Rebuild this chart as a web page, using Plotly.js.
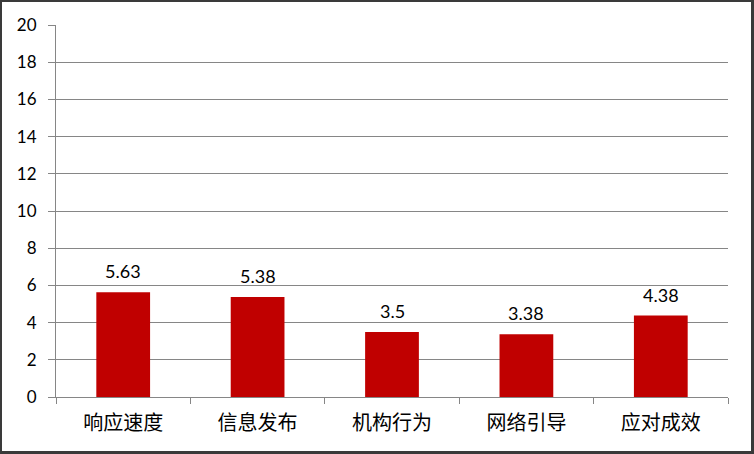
<!DOCTYPE html>
<html><head><meta charset="utf-8">
<script src="https://cdn.plot.ly/plotly-3.0.1.min.js"></script>
<style>
html,body{margin:0;padding:0;background:#fff;}
#wrap{width:754px;height:454px;box-sizing:border-box;border:2px solid #3a3a3a;border-right-width:3px;border-bottom-width:3px;overflow:hidden;}
#chart{width:749px;height:449px;}
</style></head>
<body><div id="wrap"><div id="chart"></div></div>
<script>
const categories = ["响应速度","信息发布","机构行为","网络引导","应对成效"];
const values = [5.63, 5.38, 3.5, 3.38, 4.38];
const valueLabels = ["5.63","5.38","3.5","3.38","4.38"];
const yTicks = [0,2,4,6,8,10,12,14,16,18,20];

const trace = {
  type: "bar", x: categories, y: values,
  marker: {color: "#C00000"},
  hoverinfo: "none"
};
const annotations = categories.map((c, i) => ({
  x: c, y: values[i], xref: "x", yref: "y",
  text: valueLabels[i], showarrow: false,
  yanchor: "middle", yshift: 21,
  font: {family: "Lato, 'Open Sans', sans-serif", size: 18, color: "#000"}
}));
const layout = {
  width: 749, height: 449,
  margin: {l: 54, r: 23, t: 23, b: 54},
  paper_bgcolor: "#fff", plot_bgcolor: "#fff",
  bargap: 0.6, showlegend: false,
  annotations: annotations,
  xaxis: {
    type: "category", showgrid: false, showline: true, linecolor: "#868686", linewidth: 1,
    ticks: "outside", tickson: "boundaries", ticklen: 6, tickcolor: "#868686",
    tickfont: {family: "'Noto Sans CJK SC', sans-serif", size: 20, color: "#000"},
    ticklabelstandoff: 8,
    zeroline: false
  },
  yaxis: {
    range: [0, 20], tickvals: yTicks, ticktext: yTicks.map(String),
    showgrid: true, gridcolor: "#868686", gridwidth: 1,
    showline: true, linecolor: "#868686", linewidth: 1,
    ticks: "outside", ticklen: 7, tickcolor: "#868686",
    tickfont: {family: "Lato, 'Open Sans', sans-serif", size: 17, color: "#000"},
    ticklabelstandoff: 8,
    zeroline: false
  }
};
Plotly.newPlot("chart", [trace], layout, {staticPlot: true, displayModeBar: false});
</script></body></html>
